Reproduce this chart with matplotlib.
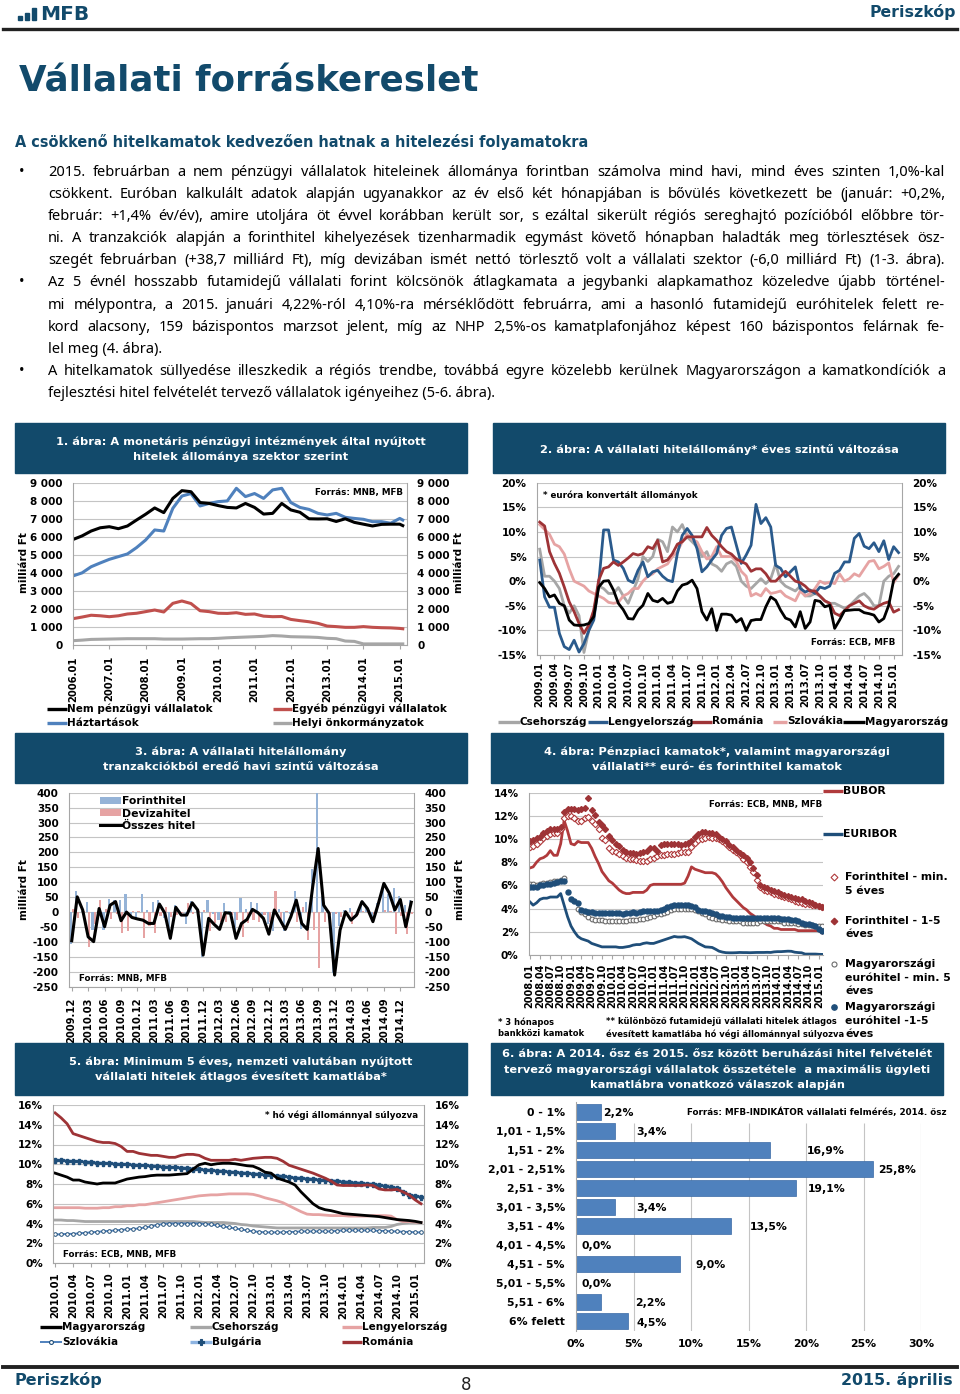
import numpy as np
import matplotlib
matplotlib.use("Agg")
import matplotlib.pyplot as plt
from matplotlib.patches import Rectangle
from matplotlib.lines import Line2D
from matplotlib.ticker import FuncFormatter
from matplotlib import font_manager

# ---------------- data ----------------
# 1. ábra, milliárd Ft (negyedéves leolvasás)
c1_months = ["2006.01", "2006.04", "2006.07", "2006.10", "2007.01", "2007.04", "2007.07", "2007.10",
             "2008.01", "2008.04", "2008.07", "2008.10", "2009.01", "2009.04", "2009.07", "2009.10",
             "2010.01", "2010.04", "2010.07", "2010.10", "2011.01", "2011.04", "2011.07", "2011.10",
             "2012.01", "2012.04", "2012.07", "2012.10", "2013.01", "2013.04", "2013.07", "2013.10",
             "2014.01", "2014.04", "2014.07", "2014.10", "2015.01", "2015.02"]
c1_nonfin = [5850, 6050, 6320, 6500, 6560, 6450, 6600, 6930, 7250, 7600, 7340, 8130,
             8560, 8500, 7900, 7850, 7730, 7630, 7600, 7850, 7630, 7260, 7300, 7850,
             7490, 7360, 7000, 6990, 7000, 6850, 7000, 6800, 6700, 6600, 6690, 6700, 6700, 6620]
c1_household = [3830, 4000, 4340, 4550, 4750, 4900, 5050, 5400, 5820, 6380, 6320, 7580,
                8260, 8400, 7710, 7850, 7950, 7990, 8690, 8230, 8400, 8130, 8600, 8690,
                7900, 7630, 7520, 7300, 7210, 7300, 7080, 7020, 6970, 6840, 6840, 6750, 7020, 6930]
c1_otherfin = [1460, 1550, 1650, 1620, 1570, 1620, 1720, 1760, 1850, 1940, 1830, 2310,
               2440, 2300, 1900, 1850, 1760, 1750, 1790, 1700, 1720, 1600, 1570, 1580,
               1420, 1350, 1290, 1200, 1050, 1020, 980, 980, 1020, 980, 960, 950, 920, 900]
c1_local = [240, 270, 310, 320, 330, 340, 350, 350, 350, 350, 330, 330,
            330, 340, 350, 350, 370, 400, 420, 440, 460, 480, 520, 500,
            460, 450, 440, 420, 370, 350, 220, 200, 60, 60, 60, 60, 60, 60]
c1_ticks = ["2006.01", "2007.01", "2008.01", "2009.01", "2010.01", "2011.01",
            "2012.01", "2013.01", "2014.01", "2015.01"]

# 2. ábra, % év/év, havi 2009.01-2015.02
c2_months = [f"{y}.{m:02d}" for y in range(2009, 2016) for m in range(1, 13)][:74]
c2_cz = [6.5, 1.0, 1.0, 0.0, -1.5, -5.0, -6.5, -5.0, -7.0, -14.5, -10.0, -6.0,
         -1.0, -1.5, -2.5, -2.5, -1.3, -3.0, -4.5, -2.0, 0.5, 5.0, 4.0, 5.0,
         8.5, 8.0, 6.0, 11.0, 10.0, 11.5, 9.0, 8.0, 7.0, 5.0, 6.0, 3.5,
         3.0, 2.0, 3.5, 4.0, 3.0, 0.0, -1.0, -1.5, -0.5, 0.5, -0.5, 0.5,
         3.5, 0.0, -1.0, -1.5, -2.0, -1.0, -3.0, -3.0, -2.5, -3.0, -4.0, -4.5,
         -4.5, -5.0, -5.5, -5.0, -4.0, -3.0, -2.5, -3.5, -5.0, -5.0, 0.0, 1.0,
         1.5, 3.0]
c2_pl = [4.3, -3.2, -5.3, -5.3, -10.6, -13.3, -13.9, -12.0, -14.4, -12.7, -10.0, -7.9,
         -0.5, 10.4, 10.4, 4.3, 3.9, 2.6, 0.2, -0.3, 2.2, 3.9, 0.9, 1.9,
         2.2, 1.0, 0.2, -0.1, 5.6, 9.3, 10.7, 9.3, 6.6, 1.9, 2.9, 4.3,
         5.6, 9.3, 10.7, 11.0, 7.3, 3.6, 5.3, 7.3, 15.6, 11.7, 12.9, 11.0,
         3.2, 2.6, 0.9, 1.9, 2.9, -1.5, -2.2, -1.8, -2.5, -1.2, -1.5, -1.0,
         1.6, 2.2, 3.9, 3.9, 8.7, 9.7, 7.1, 6.6, 7.8, 6.0, 8.2, 4.4,
         7.0, 5.8]
c2_ro = [12.0, 11.2, 6.0, 3.6, 1.6, -1.2, -4.2, -6.2, -8.6, -10.6, -8.9, -5.9,
         0.2, 2.6, 2.9, 3.9, 3.2, 3.9, 4.7, 5.6, 5.3, 5.6, 7.0, 6.6,
         8.3, 3.9, 4.3, 5.6, 7.5, 8.0, 9.0, 9.0, 9.0, 9.0, 10.9, 9.3,
         8.3, 7.0, 6.0, 5.5, 4.5, 4.0, 3.5, 2.0, 2.5, 2.5, 1.5, 0.0,
         0.0, 1.0, 2.0, 1.0, 0.0, -0.3, -1.0, -2.0, -2.0, -3.0, -4.0, -4.5,
         -6.5, -7.0, -6.0, -5.0, -4.5, -4.0, -5.0, -5.5, -5.7, -5.0, -4.5, -4.2,
         -6.3, -5.8]
c2_sk = [11.5, 10.5, 9.5, 7.5, 7.0, 5.5, 2.5, 0.0, -0.5, -1.0, -2.0, -2.5,
         -3.0, -3.5, -4.3, -4.5, -4.3, -3.0, -2.5, -1.5, -1.5, 0.0, 1.0, 1.5,
         2.5, 3.0, 3.5, 5.0, 6.0, 8.0, 9.5, 8.5, 8.0, 6.0, 4.5, 5.0,
         7.0, 5.0, 5.0, 5.0, 4.0, 2.0, 1.0, -3.0, -2.5, -3.0, -1.5, -2.5,
         -2.3, -2.0, -3.0, -3.5, -4.0, -2.0, -3.0, -2.5, -1.5, 0.0, -0.5, -0.2,
         -0.5, 1.5, 0.0, 0.5, 1.5, 1.0, 2.5, 4.0, 4.2, 2.5, 3.0, 3.7,
         -0.3, 1.2]
c2_hu = [-0.3, -1.5, -3.2, -2.8, -4.5, -5.0, -7.9, -8.9, -9.0, -8.9, -8.6, -7.2,
         -1.2, 0.0, 0.1, -1.8, -4.5, -5.8, -7.6, -7.7, -5.9, -4.9, -2.5, -3.9,
         -4.2, -3.5, -4.5, -4.2, -2.0, -0.8, -0.5, 0.2, -1.5, -6.2, -7.9, -5.6,
         -10.0, -6.7, -6.7, -6.9, -8.3, -7.6, -10.0, -8.0, -7.8, -7.8, -5.2, -3.2,
         -3.9, -5.9, -7.5, -7.9, -9.3, -6.2, -9.6, -8.3, -3.9, -4.1, -5.2, -4.9,
         -9.6, -7.9, -6.0, -5.9, -5.8, -5.8, -6.4, -6.6, -6.9, -8.3, -7.6, -4.9,
         0.2, 1.4]

# 3. ábra, milliárd Ft, havi 2009.12-2015.02
c3_months = ["2009.12"] + [f"{y}.{m:02d}" for y in range(2010, 2016) for m in range(1, 13)][:62]
c3_forint = [-107, 70, 5, 34, -60, -28, -60, 45, 40, 40, 62, -20, -25, 60, 8, 33, 40, -20, -70, 25,
             -8, -40, 38, 5, -150, 42, -5, -25, 32, 5, -60, 48, 10, 35, 30, -10, -40, -65, 12, -62,
             -8, 72, -55, 35, 145, 400, 55, 5, -205, -45, 8, 13, 0, 30, 15, -25, 30, 90, 60, 80,
             55, 25, 39]
c3_deviza = [12, -19, 2, -116, -39, 40, 11, -22, -5, -69, -62, 2, 2, -87, -46, -71, -13, 16, -18, -9,
             -2, 30, -7, 2, 6, -63, -36, -33, -34, -9, -28, -85, -35, -26, -32, -11, -34, 72, -37, 4,
             -8, -32, 17, -93, -60, -187, -32, -9, -6, -15, -7, -40, -10, 5, -3, -7, -1, 6, 3, -73,
             -13, -74, -6]
c3_total = [-96, 51, 7, -83, -99, 12, -49, 23, 35, -29, 0, -18, -23, -27, -38, -38, 27, -4, -88, 16,
            -10, -10, 31, 7, -144, -21, -41, -58, -2, -4, -88, -38, -25, 9, -2, -21, -74, 7, -25, -58,
            -16, 40, -38, -58, 85, 213, 23, -4, -211, -60, 1, -27, -10, 35, 12, -32, 29, 96, 63, 7,
            42, -49, 33]

# 4. ábra, %, havi 2008.01-2015.02
c4_months = [f"{y}.{m:02d}" for y in range(2008, 2016) for m in range(1, 13)][:86]
c4_bubor = [7.5, 7.6, 8.0, 8.3, 8.4, 8.6, 9.0, 8.6, 8.6, 9.6, 11.6, 10.7,
            9.6, 9.5, 9.8, 9.7, 9.7, 9.7, 9.2, 8.5, 7.9, 7.2, 6.8, 6.4,
            6.2, 5.9, 5.6, 5.4, 5.3, 5.3, 5.4, 5.4, 5.4, 5.4, 5.6, 6.0,
            6.1, 6.1, 6.1, 6.1, 6.1, 6.1, 6.1, 6.1, 6.1, 6.2, 6.8, 7.6,
            7.4, 7.3, 7.2, 7.1, 7.1, 7.1, 7.0, 6.7, 6.3, 5.8, 5.4, 5.0,
            4.7, 4.4, 4.1, 3.9, 3.6, 3.4, 3.2, 3.0, 2.8, 2.6, 2.5, 2.3,
            2.3, 2.2, 2.2, 2.2, 2.2, 2.2, 2.1, 2.1, 2.1, 2.1, 2.1, 2.1,
            2.1, 1.9]
c4_euribor = [4.6, 4.3, 4.5, 4.8, 4.9, 4.9, 5.0, 5.0, 5.0, 5.3, 4.3, 3.3,
              2.5, 2.0, 1.6, 1.4, 1.3, 1.2, 1.0, 0.9, 0.8, 0.7, 0.7, 0.7,
              0.7, 0.7, 0.65, 0.65, 0.7, 0.75, 0.85, 0.9, 0.9, 1.0, 1.05, 1.0,
              1.0, 1.1, 1.2, 1.3, 1.4, 1.5, 1.6, 1.55, 1.55, 1.58, 1.5, 1.4,
              1.2, 1.0, 0.85, 0.7, 0.68, 0.65, 0.5, 0.33, 0.25, 0.2, 0.19, 0.19,
              0.2, 0.22, 0.21, 0.21, 0.2, 0.21, 0.22, 0.22, 0.22, 0.23, 0.22, 0.27,
              0.29, 0.29, 0.31, 0.33, 0.32, 0.24, 0.21, 0.19, 0.08, 0.08, 0.08, 0.08,
              0.06, 0.05]
c4_huf_long = [9.3, 9.4, 9.6, 9.8, 10.1, 10.3, 10.4, 10.5, 10.5, 10.9, 11.8, 12.0,
               12.0, 11.8, 11.6, 11.6, 11.8, 11.9, 11.6, 11.3, 10.9, 10.1, 9.9, 9.2,
               9.0, 8.9, 8.7, 8.5, 8.4, 8.3, 8.3, 8.2, 8.1, 8.1, 8.1, 8.3,
               8.4, 8.5, 8.6, 8.6, 8.7, 8.7, 8.7, 8.8, 8.9, 8.9, 8.9, 9.3,
               9.7, 9.9, 10.0, 10.1, 10.2, 10.1, 10.1, 10.0, 9.8, 9.6, 9.3, 9.1,
               8.9, 8.6, 8.3, 8.0, 7.6, 7.2, 6.5, 5.9, 5.6, 5.5, 5.4, 5.3,
               5.2, 5.1, 5.0, 4.9, 4.8, 4.7, 4.6, 4.5, 4.4, 4.4, 4.3, 4.3,
               4.22, 4.10]
c4_huf_short = [9.8, 9.9, 10.1, 10.2, 10.5, 10.7, 10.9, 10.9, 10.9, 11.0, 12.3, 12.6,
                12.6, 12.6, 12.5, 12.6, 12.7, 13.5, 12.5, 12.1, 11.5, 11.2, 10.9, 10.3,
                9.9, 9.6, 9.4, 9.1, 8.9, 8.8, 8.8, 8.7, 8.8, 8.9, 9.0, 9.2,
                9.2, 9.0, 9.5, 9.6, 9.6, 9.6, 9.6, 9.6, 9.5, 9.6, 9.7, 9.8,
                10.2, 10.4, 10.6, 10.6, 10.5, 10.5, 10.4, 10.2, 10.0, 9.8, 9.5, 9.3,
                9.1, 8.8, 8.6, 8.4, 8.0, 7.5, 6.9, 6.0, 5.9, 5.8, 5.6, 5.5,
                5.4, 5.3, 5.2, 5.1, 5.0, 4.9, 4.8, 4.8, 4.7, 4.6, 4.5, 4.3,
                4.2, 4.1]
c4_eur_long = [6.1, 6.1, 6.0, 6.1, 6.2, 6.2, 6.3, 6.4, 6.4, 6.5, 6.6, np.nan,
               np.nan, np.nan, 4.0, 3.7, 3.5, 3.3, 3.1, 3.0, 3.0, 3.0, 2.9, 2.9,
               2.9, 2.9, 2.9, 2.9, 2.9, 3.0, 3.0, 3.0, 3.1, 3.1, 3.2, 3.3,
               3.4, 3.5, 3.5, 3.6, 3.7, 3.9, 4.0, 4.0, 4.0, 4.0, 4.0, 4.0,
               3.9, 3.8, 3.6, 3.5, 3.3, 3.2, 3.1, 3.1, 3.0, 3.0, 2.9, 2.9,
               2.9, 2.9, 2.8, 2.8, 2.8, 2.8, 2.8, 2.9, 2.9, 2.9, 2.9, 2.9,
               2.9, 2.9, 2.8, 2.8, 2.8, 2.8, 2.7, 2.7, 2.6, 2.6, 2.6, 2.5,
               2.5, 2.5]
c4_eur_short = [5.9, 5.9, 5.9, 6.0, 6.0, 6.1, 6.1, 6.2, 6.3, 6.4, 6.4, 5.4,
                4.8, 4.7, 4.5, 3.9, 3.8, 3.7, 3.7, 3.6, 3.6, 3.6, 3.6, 3.6,
                3.6, 3.6, 3.6, 3.5, 3.6, 3.6, 3.7, 3.6, 3.7, 3.8, 3.8, 3.8,
                3.8, 3.8, 3.9, 4.0, 4.1, 4.2, 4.3, 4.3, 4.3, 4.3, 4.3, 4.2,
                4.1, 3.9, 3.8, 3.8, 3.7, 3.6, 3.5, 3.4, 3.4, 3.3, 3.3, 3.2,
                3.2, 3.2, 3.2, 3.2, 3.2, 3.2, 3.2, 3.2, 3.2, 3.2, 3.2, 3.2,
                3.2, 3.1, 3.1, 3.1, 3.0, 3.0, 2.9, 2.8, 2.7, 2.7, 2.6, 2.5,
                2.2, 2.1]

# 5. ábra, %, havi 2010.01-2015.02
c5_months = [f"{y}.{m:02d}" for y in range(2010, 2016) for m in range(1, 13)][:62]
c5_hu = [9.1, 8.9, 8.7, 8.4, 8.4, 8.2, 8.1, 8.0, 8.1, 8.1, 8.1, 8.3,
         8.5, 8.6, 8.7, 8.75, 8.85, 8.9, 8.9, 8.9, 8.95, 9.0, 9.05, 9.5,
         9.95, 10.1, 9.95, 10.05, 10.1, 10.1, 10.05, 9.95, 9.85, 9.8, 9.55, 9.2,
         9.1, 8.6, 8.4, 8.2, 7.9, 7.2, 6.6, 6.0, 5.6, 5.4, 5.3, 5.15,
         5.0, 4.95, 4.9, 4.85, 4.8, 4.75, 4.7, 4.6, 4.5, 4.4, 4.35, 4.3,
         4.22, 4.1]
c5_cz = [4.35, 4.35, 4.3, 4.3, 4.25, 4.2, 4.2, 4.2, 4.2, 4.2, 4.2, 4.2,
         4.2, 4.2, 4.2, 4.2, 4.2, 4.2, 4.2, 4.2, 4.2, 4.2, 4.2, 4.2,
         4.15, 4.1, 4.1, 4.1, 4.1, 4.05, 4.0, 3.9, 3.85, 3.75, 3.7, 3.65,
         3.6, 3.55, 3.55, 3.55, 3.55, 3.55, 3.55, 3.55, 3.55, 3.55, 3.55, 3.55,
         3.55, 3.55, 3.55, 3.55, 3.55, 3.6, 3.6, 3.6, 3.7, 3.9, 4.0, 4.1,
         4.1, 4.1]
c5_pl = [5.6, 5.6, 5.6, 5.6, 5.6, 5.55, 5.55, 5.55, 5.6, 5.6, 5.7, 5.7,
         5.8, 5.8, 5.9, 5.9, 6.0, 6.1, 6.2, 6.3, 6.4, 6.5, 6.6, 6.7,
         6.8, 6.85, 6.9, 6.9, 6.95, 7.0, 7.0, 7.0, 7.0, 6.95, 6.8, 6.6,
         6.45, 6.3, 6.1, 5.8, 5.5, 5.2, 4.95, 4.9, 4.9, 4.85, 4.8, 4.8,
         4.8, 4.75, 4.75, 4.75, 4.75, 4.8, 4.8, 4.8, 4.75, 4.4, 4.2, 4.2,
         4.15, 4.1]
c5_sk = [2.9, 2.9, 2.95, 2.95, 3.0, 3.05, 3.1, 3.15, 3.2, 3.25, 3.3, 3.35,
         3.4, 3.45, 3.5, 3.6, 3.7, 3.85, 3.95, 4.0, 4.0, 4.0, 4.0, 4.0,
         4.0, 3.95, 3.9, 3.8, 3.7, 3.6, 3.5, 3.4, 3.3, 3.2, 3.15, 3.1,
         3.1, 3.1, 3.1, 3.15, 3.15, 3.2, 3.2, 3.2, 3.2, 3.2, 3.2, 3.25,
         3.3, 3.3, 3.3, 3.3, 3.3, 3.3, 3.25, 3.25, 3.2, 3.2, 3.15, 3.15,
         3.1, 3.1]
c5_bg = [10.4, 10.4, 10.35, 10.3, 10.3, 10.25, 10.2, 10.15, 10.1, 10.1, 10.05, 10.0,
         10.0, 9.95, 9.9, 9.9, 9.85, 9.8, 9.75, 9.7, 9.7, 9.65, 9.6, 9.55,
         9.5, 9.45, 9.4, 9.35, 9.3, 9.25, 9.2, 9.15, 9.1, 9.05, 9.0, 8.95,
         8.9, 8.85, 8.8, 8.7, 8.65, 8.6, 8.55, 8.5, 8.45, 8.4, 8.35, 8.3,
         8.25, 8.2, 8.15, 8.1, 8.05, 8.0, 7.9, 7.8, 7.7, 7.6, 7.2, 6.9,
         6.8, 6.7]
c5_ro = [15.2, 14.7, 14.1, 13.1, 12.9, 12.7, 12.5, 12.3, 12.2, 12.2, 12.1, 11.8,
         11.3, 11.3, 11.1, 11.0, 10.9, 10.9, 10.8, 10.7, 10.7, 10.9, 11.0, 11.0,
         10.9, 10.6, 10.4, 10.4, 10.4, 10.4, 10.5, 10.4, 10.5, 10.6, 10.65, 10.7,
         10.7, 10.6, 10.3, 9.9, 9.7, 9.5, 9.3, 9.1, 8.85, 8.6, 8.3, 7.9,
         7.85, 7.85, 7.85, 7.85, 7.9, 7.85, 7.5, 7.4, 7.4, 7.45, 7.2, 6.9,
         6.4, 6.0]

# 6. ábra, % a válaszadók között
c6_cats = ["0 - 1%", "1,01 - 1,5%", "1,51 - 2%", "2,01 - 2,51%", "2,51 - 3%", "3,01 - 3,5%",
           "3,51 - 4%", "4,01 - 4,5%", "4,51 - 5%", "5,01 - 5,5%", "5,51 - 6%", "6% felett"]
c6_vals = [2.2, 3.4, 16.9, 25.8, 19.1, 3.4, 13.5, 0.0, 9.0, 0.0, 2.2, 4.5]
c6_lbl_x = [2.35, 5.2, 20.1, 26.3, 20.2, 5.2, 15.1, 0.5, 10.4, 0.5, 5.1, 5.3]  # címkék helye

body_lines = [
    "2015. februárban a nem pénzügyi vállalatok hiteleinek állománya forintban számolva mind havi, mind éves szinten 1,0%-kal",
    "csökkent. Euróban kalkulált adatok alapján ugyanakkor az év első két hónapjában is bővülés következett be (január: +0,2%,",
    "február: +1,4% év/év), amire utoljára öt évvel korábban került sor, s ezáltal sikerült régiós sereghajtó pozícióból előbbre tör-",
    "ni. A tranzakciók alapján a forinthitel kihelyezések tizenharmadik egymást követő hónapban haladták meg törlesztések ösz-",
    "szegét februárban (+38,7 milliárd Ft), míg devizában ismét nettó törlesztő volt a vállalati szektor (-6,0 milliárd Ft) (1-3. ábra).",
    "Az 5 évnél hosszabb futamidejű vállalati forint kölcsönök átlagkamata a jegybanki alapkamathoz közeledve újabb történel-",
    "mi mélypontra, a 2015. januári 4,22%-ról 4,10%-ra mérséklődött februárra, ami a hasonló futamidejű euróhitelek felett re-",
    "kord alacsony, 159 bázispontos marzsot jelent, míg az NHP 2,5%-os kamatplafonjához képest 160 bázispontos felárnak fe-",
    "lel meg (4. ábra).",
    "A hitelkamatok süllyedése illeszkedik a régiós trendbe, továbbá egyre közelebb kerülnek Magyarországon a kamatkondíciók a",
    "fejlesztési hitel felvételét tervező vállalatok igényeihez (5-6. ábra).",
]
body_justified = [True, True, True, True, True, True, True, True, False, True, False]
body_bullets = [True, False, False, False, False, True, False, False, False, True, False]

# ---------------- style / helpers ----------------
W, H = 960, 1394
NAVY = "#124a6b"
GRID = "#c4c4c4"
AXC = "#a6a6a6"

installed = {f.name for f in font_manager.fontManager.ttflist}
NARROW = "Liberation Sans Narrow" if "Liberation Sans Narrow" in installed else "DejaVu Sans"
BODY = "Noto Sans" if "Noto Sans" in installed else "DejaVu Sans"

plt.rcParams["font.family"] = ["DejaVu Sans"]
plt.rcParams["font.weight"] = "bold"
plt.rcParams["axes.unicode_minus"] = False

fig = plt.figure(figsize=(9.6, 13.94), dpi=100)
R = fig.canvas.get_renderer()


def fx(x):
    return x / W


def fy(y):
    return 1 - y / H


def add_ax(x0, y0, x1, y1):
    return fig.add_axes([x0 / W, 1 - y1 / H, (x1 - x0) / W, (y1 - y0) / H])


def txt(x, y, s, **kw):
    kw.setdefault("va", "center")
    return fig.text(fx(x), fy(y), s, **kw)


def fit(t, width):
    w = t.get_window_extent(R).width
    t.set_fontsize(t.get_fontsize() * width / w)
    return t


def midx(lbl, start):
    y, m = lbl.split(".")
    return (int(y) - int(start[:4])) * 12 + int(m) - int(start[5:])


def header(x0, y0, x1, y1, lines, ys, size):
    fig.patches.append(Rectangle((fx(x0), fy(y1)), (x1 - x0) / W, (y1 - y0) / H,
                                 transform=fig.transFigure, color=NAVY, zorder=0))
    for s, y in zip(lines, ys):
        txt((x0 + x1) / 2, y, s, ha="center", color="white", fontsize=size)


def leg(x0, x1, y, label, color, lw=2.4, marker=None, ms=4, mfc=None, mec=None, size=7.5):
    fig.add_artist(Line2D([fx(x0), fx(x1)], [fy(y), fy(y)], transform=fig.transFigure,
                          color=color, lw=lw, solid_capstyle="butt"))
    if marker:
        fig.add_artist(Line2D([fx((x0 + x1) / 2)], [fy(y)], transform=fig.transFigure, ls="none",
                              marker=marker, ms=ms, mfc=mfc, mec=mec, mew=0.8))
    txt(x1, y, label, fontsize=size)


def style(ax, ylim, step, fmt, xlim, ticks, labels, right=True, pad_x=5):
    ax.set_ylim(*ylim)
    ax.set_yticks(np.arange(ylim[0], ylim[1] + step / 2, step))
    ax.yaxis.set_major_formatter(FuncFormatter(fmt))
    ax.set_xlim(*xlim)
    ax.set_xticks(ticks)
    ax.set_xticklabels(labels, rotation=90)
    ax.grid(axis="y", color=GRID, lw=0.8)
    ax.set_axisbelow(True)
    for s in ax.spines.values():
        s.set_color(AXC)
        s.set_linewidth(0.8)
    ax.spines["top"].set_visible(False)
    ax.spines["right"].set_visible(right)
    ax.tick_params(axis="y", length=0, labelsize=7.5, pad=7.5, labelright=right)
    ax.tick_params(axis="x", length=3, color=AXC, labelsize=7.2, pad=pad_x)


# ---------------- page header / text ----------------
fig.add_artist(Line2D([fx(3), fx(957)], [fy(28.5), fy(28.5)], transform=fig.transFigure,
                      color="#222222", lw=2.4))
for bx, btop in [(18, 16), (25, 13), (32, 8)]:
    fig.patches.append(Rectangle((fx(bx), fy(19.5)), 3.5 / W, (19.5 - btop) / H,
                                 transform=fig.transFigure, color=NAVY))
t = txt(40, 20, "MFB", va="baseline", color=NAVY, fontsize=14)
fit(t, 49)
t = txt(956, 17, "Periszkóp", va="baseline", ha="right", color=NAVY, fontsize=12)
fit(t, 86)

t = txt(19, 92, "Vállalati forráskereslet", va="baseline", color=NAVY, fontsize=30, family=NARROW)
fit(t, 459)
t = txt(15, 147, "A csökkenő hitelkamatok kedvezően hatnak a hitelezési folyamatokra",
        va="baseline", color=NAVY, fontsize=10)
fit(t, 574)

X0, X1 = 48, 945
probe = [txt(0, 0, s, fontsize=10, weight="normal", family=BODY) for s in body_lines]
widest = max(p.get_window_extent(R).width for p in probe)
for p in probe:
    p.remove()
body_size = min(10.5, 10 * (X1 - X0) * 0.99 / widest)

for i, (s, just, bul) in enumerate(zip(body_lines, body_justified, body_bullets)):
    yb = 176 + 22.1 * i
    if bul:
        txt(19, yb, "•", va="baseline", fontsize=body_size, weight="normal", family=BODY)
    if not just:
        txt(X0, yb, s, va="baseline", fontsize=body_size, weight="normal", family=BODY)
        continue
    words = s.split(" ")
    ts = [txt(X0, yb, w, va="baseline", fontsize=body_size, weight="normal", family=BODY)
          for w in words]
    ws = [tt.get_window_extent(R).width for tt in ts]
    gap = (X1 - X0 - sum(ws)) / (len(words) - 1)
    xpos = X0
    for tt, w in zip(ts, ws):
        tt.set_x(fx(xpos))
        xpos += w + gap

# header title size
probe = txt(0, 0, "1. ábra: A monetáris pénzügyi intézmények által nyújtott", fontsize=8)
HS = 8 * 366 / probe.get_window_extent(R).width
probe.remove()

thou = lambda v, p: f"{int(v):,}".replace(",", " ")
pct = lambda v, p: f"{int(round(v))}%"
intf = lambda v, p: f"{int(v)}"

# ---------------- 1. ábra ----------------
header(15, 423, 467, 473, ["1. ábra: A monetáris pénzügyi intézmények által nyújtott",
                           "hitelek állománya szektor szerint"], [441.7, 456.7], HS)
ax = add_ax(73, 482.7, 407, 645)
x1 = [midx(m, "2006.01") for m in c1_months]
ax.plot(x1, c1_local, color="#a6a6a6", lw=2.2)
ax.plot(x1, c1_otherfin, color="#c0504d", lw=2.2)
ax.plot(x1, c1_household, color="#4f81bd", lw=2.2)
ax.plot(x1, c1_nonfin, color="black", lw=2.2)
style(ax, (0, 9000), 1000, thou, (0, 110.4), [midx(m, "2006.01") for m in c1_ticks], c1_ticks, pad_x=5)
txt(315, 492, "Forrás: MNB, MFB", fontsize=6.3)
txt(24, 563, "milliárd Ft", rotation=90, ha="center", fontsize=7.5)
txt(459, 563, "milliárd Ft", rotation=90, ha="center", fontsize=7.5)
leg(47, 67, 709, "Nem pénzügyi vállalatok", "black")
leg(47, 67, 723, "Háztartások", "#4f81bd")
leg(273, 292, 709, "Egyéb pénzügyi vállalatok", "#c0504d")
leg(273, 292, 723, "Helyi önkormányzatok", "#a6a6a6")

# ---------------- 2. ábra ----------------
header(493, 423, 945, 473, ["2. ábra: A vállalati hitelállomány* éves szintű változása"], [450], HS)
ax = add_ax(537, 482.7, 902, 655)
x2 = np.arange(len(c2_months))
ax.plot(x2, c2_cz, color="#a6a6a6", lw=2.0)
ax.plot(x2, c2_sk, color="#e6a3a3", lw=2.0)
ax.plot(x2, c2_pl, color="#2a5a8c", lw=2.0)
ax.plot(x2, c2_ro, color="#9e3336", lw=2.0)
ax.plot(x2, c2_hu, color="black", lw=2.0)
style(ax, (-15, 20), 5, pct, (-0.55, 73.7), x2[::3], c2_months[::3], pad_x=2)
txt(543, 495, "* euróra konvertált állományok", fontsize=6.3)
txt(811, 643, "Forrás: ECB, MFB", fontsize=6.3)
leg(498, 520, 721.5, "Csehország", "#a6a6a6")
leg(588, 608, 721.5, "Lengyelország", "#2a5a8c")
leg(690, 712, 721.5, "Románia", "#9e3336")
leg(773, 787, 721.5, "Szlovákia", "#e6a3a3")
leg(843, 865, 721.5, "Magyarország", "black")

# ---------------- 3. ábra ----------------
header(15, 733, 467, 783, ["3. ábra: A vállalati hitelállomány",
                           "tranzakciókból eredő havi szintű változása"], [751.7, 766.7], HS)
ax = add_ax(69, 792.7, 414, 986.7)
x3 = np.arange(len(c3_months))
b1 = ax.bar(x3 - 0.2, c3_forint, width=0.4, color="#95b3d7", label="Forinthitel")
b2 = ax.bar(x3 + 0.2, c3_deviza, width=0.4, color="#e6a3a3", label="Devizahitel")
l3, = ax.plot(x3, c3_total, color="black", lw=2.2, label="Összes hitel")
style(ax, (-250, 400), 50, intf, (-0.5, 62.5), x3[::3], c3_months[::3], pad_x=5)
ax.legend(handles=[b1, b2, l3], loc="upper left", bbox_to_anchor=(fx(95), fy(791)),
          bbox_transform=fig.transFigure, frameon=False, fontsize=7.8, handlelength=1.9,
          handleheight=0.55, handletextpad=0.1, labelspacing=0.2, borderpad=0)
txt(79, 979, "Forrás: MNB, MFB", fontsize=6.3)
txt(24, 890, "milliárd Ft", rotation=90, ha="center", fontsize=7.5)
txt(460, 890, "milliárd Ft", rotation=90, ha="center", fontsize=7.5)

# ---------------- 4. ábra ----------------
header(491, 733, 943, 783, ["4. ábra: Pénzpiaci kamatok*, valamint magyarországi",
                            "vállalati** euró- és forinthitel kamatok"], [751.7, 766.7], HS)
ax = add_ax(529, 792.7, 823, 955)
x4 = np.arange(len(c4_months))
ax.plot(x4, c4_bubor, color="#b03a3c", lw=2.0)
ax.plot(x4, c4_euribor, color="#1f4e79", lw=2.0)
ax.plot(x4, c4_huf_long, ls="none", marker="D", ms=3.3, mfc="white", mec="#b03a3c", mew=0.8)
ax.plot(x4, c4_huf_short, ls="none", marker="D", ms=3.0, mfc="#9e3336", mec="#9e3336")
ax.plot(x4, c4_eur_long, ls="none", marker="o", ms=3.4, mfc="white", mec="#6b6b6b", mew=0.8)
ax.plot(x4, c4_eur_short, ls="none", marker="o", ms=3.6, mfc="#1f4e79", mec="#1f4e79")
style(ax, (0, 14), 2, pct, (-0.2, 85.2), x4[::3], c4_months[::3], right=False, pad_x=3)
ax.tick_params(axis="x", labelsize=7.0)
txt(709, 804, "Forrás: ECB, MNB, MFB", fontsize=6.3)
leg(823, 843, 791, "BUBOR", "#b03a3c", size=7.8)
leg(823, 843, 834, "EURIBOR", "#1f4e79", size=7.8)
fig.add_artist(Line2D([fx(834)], [fy(877)], transform=fig.transFigure, ls="none", marker="D",
                      ms=3.5, mfc="white", mec="#b03a3c", mew=0.8))
txt(845, 877, "Forinthitel - min.", fontsize=7.8)
txt(845, 891, "5 éves", fontsize=7.8)
fig.add_artist(Line2D([fx(834)], [fy(921)], transform=fig.transFigure, ls="none", marker="D",
                      ms=3.3, mfc="#9e3336", mec="#9e3336"))
txt(845, 921, "Forinthitel - 1-5", fontsize=7.8)
txt(845, 934, "éves", fontsize=7.8)
fig.add_artist(Line2D([fx(834)], [fy(964)], transform=fig.transFigure, ls="none", marker="o",
                      ms=3.6, mfc="white", mec="#6b6b6b", mew=0.8))
txt(845, 964, "Magyarországi", fontsize=7.8)
txt(845, 978, "euróhitel - min. 5", fontsize=7.8)
txt(845, 991, "éves", fontsize=7.8)
fig.add_artist(Line2D([fx(834)], [fy(1007)], transform=fig.transFigure, ls="none", marker="o",
                      ms=3.8, mfc="#1f4e79", mec="#1f4e79"))
txt(845, 1007, "Magyarországi", fontsize=7.8)
txt(845, 1021, "euróhitel -1-5", fontsize=7.8)
txt(845, 1034, "éves", fontsize=7.8)
txt(498, 1022, "* 3 hónapos", fontsize=6.0)
txt(498, 1033, "bankközi kamatok", fontsize=6.0)
txt(606, 1022, "** különböző futamidejű vállalati hitelek átlagos", fontsize=6.0)
txt(606, 1034, "évesített kamatlába hó végi állománnyal súlyozva", fontsize=6.0)

# ---------------- 5. ábra ----------------
header(15, 1043, 467, 1095, ["5. ábra: Minimum 5 éves, nemzeti valutában nyújtott",
                             "vállalati hitelek átlagos évesített kamatlába*"], [1061.7, 1076.7], HS)
ax = add_ax(53.3, 1105, 424, 1263)
x5 = np.arange(len(c5_months))
ax.plot(x5, c5_cz, color="#a6a6a6", lw=2.0)
ax.plot(x5, c5_sk, color="#4f81bd", lw=1.4, marker="o", ms=2.6, mfc="white", mec="#1f4e79", mew=0.7)
ax.plot(x5, c5_pl, color="#e6a3a3", lw=2.0)
ax.plot(x5, c5_bg, color="#8db4e2", lw=2.0, marker="P", ms=3.6, mfc="#1f4e79", mec="#1f4e79")
ax.plot(x5, c5_ro, color="#9e3336", lw=2.0)
ax.plot(x5, c5_hu, color="black", lw=2.0)
style(ax, (0, 16), 2, pct, (-0.3, 61.5), x5[::3], c5_months[::3], pad_x=4)
txt(265, 1115, "* hó végi állománnyal súlyozva", fontsize=6.3)
txt(63, 1254, "Forrás: ECB, MNB, MFB", fontsize=6.3)
leg(40, 62, 1327, "Magyarország", "black")
leg(40, 62, 1342, "Szlovákia", "#4f81bd", lw=1.4, marker="o", ms=2.8, mfc="white", mec="#1f4e79")
leg(190, 212, 1327, "Csehország", "#a6a6a6")
leg(190, 212, 1342, "Bulgária", "#8db4e2", marker="P", ms=3.8, mfc="#1f4e79", mec="#1f4e79")
leg(342, 362, 1327, "Lengyelország", "#e6a3a3")
leg(342, 362, 1342, "Románia", "#9e3336")

# ---------------- 6. ábra ----------------
header(491, 1043, 943, 1095, ["6. ábra: A 2014. ősz és 2015. ősz között beruházási hitel felvételét",
                              "tervező magyarországi vállalatok összetétele  a maximális ügyleti",
                              "kamatlábra vonatkozó válaszok alapján"], [1054, 1069.3, 1084.3], HS)
ax = add_ax(576, 1102.2, 921, 1330.5)
y6 = np.arange(len(c6_cats))
ax.vlines(np.arange(5, 31, 5), 0.6, 11.5, color=GRID, lw=0.8, zorder=0)
ax.barh(y6, c6_vals, height=0.82, color="#4f81bd", edgecolor="#3a6aa5", lw=0.5, zorder=2)
for yv, v, lx in zip(y6, c6_vals, c6_lbl_x):
    ax.text(lx, yv + 0.08, f"{v:.1f}%".replace(".", ","), va="center", fontsize=7.8)
ax.set_xlim(0, 30)
ax.set_ylim(11.5, -0.5)
ax.set_yticks(y6)
ax.set_yticklabels(c6_cats)
ax.set_xticks(np.arange(0, 31, 5))
ax.xaxis.set_major_formatter(FuncFormatter(pct))
for s in ["top", "right", "bottom"]:
    ax.spines[s].set_visible(False)
ax.spines["left"].set_color(AXC)
ax.tick_params(axis="both", length=0, labelsize=7.8)
ax.tick_params(axis="y", pad=8)
ax.tick_params(axis="x", pad=6)
txt(687, 1112, "Forrás: MFB-INDIKÁTOR vállalati felmérés, 2014. ősz", fontsize=6.3)

# ---------------- footer ----------------
fig.add_artist(Line2D([fx(3), fx(957)], [fy(1367), fy(1367)], transform=fig.transFigure,
                      color="#222222", lw=2.8))
t = txt(15, 1385, "Periszkóp", va="baseline", color=NAVY, fontsize=12)
fit(t, 87)
txt(466, 1390, "8", va="baseline", ha="center", fontsize=12, weight="normal", color="#222222")
t = txt(953, 1385, "2015. április", va="baseline", ha="right", color=NAVY, fontsize=12)
fit(t, 111)

fig.savefig("out.png", dpi=100)
